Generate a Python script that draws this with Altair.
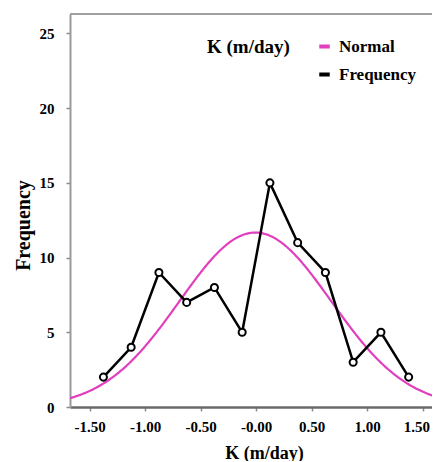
import altair as alt
import pandas as pd

# ---- data ----
k_mid = [-1.375, -1.125, -0.875, -0.625, -0.375, -0.125,
         0.125, 0.375, 0.625, 0.875, 1.125, 1.375]
freq = [2, 4, 9, 7, 8, 5, 15, 11, 9, 3, 5, 2]
x_ticks = [-1.5, -1.0, -0.5, 0.0, 0.5, 1.0, 1.5]
x_tick_labels = ["-1.50", "-1.00", "-0.50", "-0.00", "0.50", "1.00", "1.50"]
y_ticks = [0, 5, 10, 15, 20, 25]
series = ["Normal", "Frequency"]
colors = ["#E23FBF", "#000000"]
bin_width = 0.25

# fitted normal parameters (from the binned data)
n_total = sum(freq)
mu = sum(k * f for k, f in zip(k_mid, freq)) / n_total
sigma = (sum(f * (k - mu) ** 2 for k, f in zip(k_mid, freq)) / n_total) ** 0.5

W, H = 362, 393
X_DOM = [-1.676, -1.676 + W / 111.0]
Y_DOM = [0, 26.3]
FONT = "Liberation Serif"

df = pd.DataFrame({"k": k_mid, "freq": freq, "series": "Frequency"})

x_scale = alt.Scale(domain=X_DOM, nice=False, zero=False)
y_scale = alt.Scale(domain=Y_DOM, nice=False)
color_scale = alt.Scale(domain=series, range=colors)

label_js = "[" + ",".join("'%s'" % s for s in x_tick_labels) + "]"

x_axis = alt.Axis(values=x_ticks, title="K (m/day)",
                  labelExpr=label_js + "[round((datum.value + 1.5) * 2)]",
                  labelAlign={"condition": {"test": "datum.value >= 1.5", "value": "right"},
                              "value": "center"},
                  labelOffset={"condition": {"test": "datum.value >= 1.5", "value": 7},
                               "value": 0},
                  domainColor="#6a6a6a", domainWidth=2.5,
                  labelPadding=8, titleBaseline="alphabetic", titleY=51,
                  titleX=194, titleFontSize=18)
y_axis = alt.Axis(values=y_ticks, title="Frequency",
                  domainColor="#9a9a9a", domainWidth=2,
                  labelPadding=12, titlePadding=6, titleY=211, titleFontSize=20)

legend = alt.Legend(title="K (m/day)", titleOrient="left", titleAnchor="start",
                    orient="none", legendX=137, legendY=24, symbolType="stroke",
                    symbolStrokeWidth=4, symbolSize=110,
                    titleFontSize=19, titleFont=FONT, titleFontWeight="bold",
                    titlePadding=26, titleColor="black",
                    labelFontSize=17, labelFont=FONT, labelFontWeight="bold",
                    labelColor="black", rowPadding=10, labelOffset=6)

normal = (
    alt.Chart(alt.sequence(-1.70, 1.70, 0.01, as_="k"))
    .transform_calculate(
        y="%f * %f / (%f * sqrt(2 * PI)) * exp(-0.5 * pow((datum.k - (%f)) / %f, 2))"
        % (n_total, bin_width, sigma, mu, sigma),
        series="'Normal'",
    )
    .mark_line(strokeWidth=2.2, clip=True)
    .encode(
        x=alt.X("k:Q", scale=x_scale, axis=x_axis),
        y=alt.Y("y:Q", scale=y_scale, axis=y_axis),
        color=alt.Color("series:N", scale=color_scale, legend=legend),
    )
)

freq_line = (
    alt.Chart(df)
    .mark_line(strokeWidth=2.5)
    .encode(
        x=alt.X("k:Q", scale=x_scale),
        y=alt.Y("freq:Q", scale=y_scale),
        color=alt.Color("series:N", scale=color_scale, legend=legend),
    )
)

freq_pts = (
    alt.Chart(df)
    .mark_point(shape="circle", filled=True, fill="white", stroke="black",
                strokeWidth=2, size=50, opacity=1)
    .encode(x=alt.X("k:Q", scale=x_scale), y=alt.Y("freq:Q", scale=y_scale))
)

top_frame = (
    alt.Chart(pd.DataFrame({"a": [0]}))
    .mark_rule(color="#a0a0a0", strokeWidth=2)
    .encode(x=alt.value(0), x2=alt.value(W), y=alt.value(0))
)

chart = (
    alt.layer(normal, freq_line, freq_pts, top_frame)
    .properties(width=W, height=H,
                autosize=alt.AutoSizeParams(type="none"),
                padding={"left": 62, "top": 6, "right": 0, "bottom": 54})
    .configure_view(stroke=None)
    .configure_axis(grid=False, labelFont=FONT, labelFontWeight="bold",
                    labelFontSize=15, labelColor="black",
                    titleFont=FONT, titleFontWeight="bold", titleFontSize=18,
                    titleColor="black", tickColor="#8a8a8a", tickSize=4,
                    tickWidth=1.5)
)

chart.save("out.html", embed_options={"renderer": "svg", "actions": False})
